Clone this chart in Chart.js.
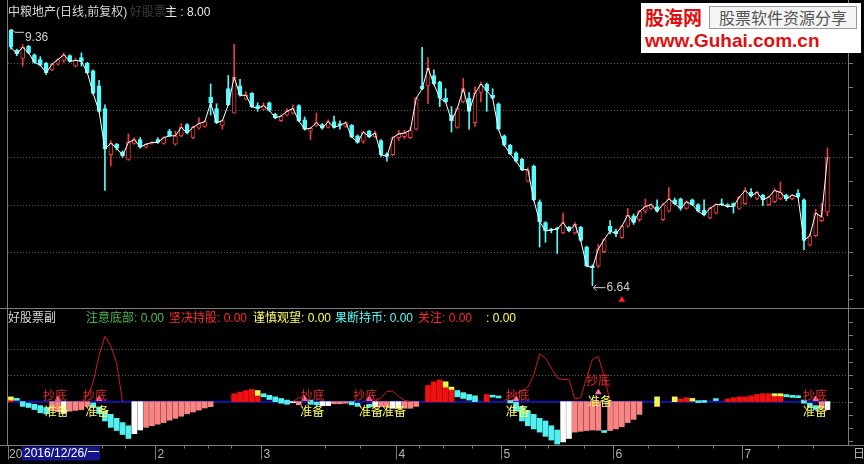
<!DOCTYPE html>
<html><head><meta charset="utf-8">
<script src="https://cdn.jsdelivr.net/npm/chart.js@4.4.1/dist/chart.umd.min.js"></script>
<style>
html,body{margin:0;padding:0;background:#000;}
body{width:864px;height:464px;position:relative;overflow:hidden;font-family:"Liberation Sans","Noto Sans CJK SC",sans-serif;}
canvas{position:absolute;left:0}
#c1{top:0}
#c2{top:308px}
.t{position:absolute;white-space:nowrap;font-size:12px;line-height:14px;}
#logo{position:absolute;left:641px;top:3px;width:220px;height:50px;background:#fff;}
</style></head><body>
<canvas id="c1" width="864" height="308"></canvas>
<canvas id="c2" width="864" height="156"></canvas>
<div class="t" style="left:8px;top:5px;font-size:12px;color:#d8d8d8">中粮地产(日线,前复权)</div>
<div class="t" style="left:130px;top:5px;font-size:12px;color:#3a3a3a">好股票</div>
<div class="t" id="mainVal" style="left:165px;top:5px;font-size:12px;color:#e8e8e8"></div>
<div class="t" style="left:8px;top:311px;font-size:12px;color:#d8d8d8">好股票副</div>
<div id="legend"></div>
<div id="logo">
  <div class="t" style="left:4px;top:2px;font-size:19px;line-height:24px;font-weight:bold;color:#e01010;font-family:'Noto Sans CJK SC'">股海网</div>
  <div class="t" style="left:68px;top:3px;width:146px;height:21px;border:1px solid #999;background:#f4f4f4;font-size:16px;line-height:21px;color:#555;text-align:center;font-family:'Noto Sans CJK SC'">股票软件资源分享</div>
  <div class="t" style="left:4px;top:27px;font-size:19px;line-height:22px;font-weight:bold;color:#e01010;font-family:'Liberation Sans'">www.Guhai.com.cn</div>
</div>
<script>
// ---------------- data ----------------
const open = [9.35,9.14,9.05,9.18,9.09,9.04,9.00,8.93,8.99,9.03,
9.08,8.97,9.06,9.00,8.92,8.76,8.52,8.03,8.14,8.06,
7.98,8.15,8.19,8.11,8.15,8.19,8.15,8.28,8.14,8.23,
8.35,8.21,8.31,8.33,8.64,8.52,8.34,8.73,8.47,8.76,
8.62,8.68,8.55,8.51,8.58,8.46,8.39,8.45,8.47,8.55,
8.40,8.28,8.34,8.35,8.32,8.38,8.36,8.33,8.34,8.23,
8.17,8.28,8.22,8.18,8.04,8.03,8.21,8.22,8.21,8.30,
8.76,8.76,8.87,8.80,8.63,8.45,8.32,8.59,8.63,8.37,
8.69,8.78,8.66,8.57,8.23,8.13,8.05,7.98,7.75,7.91,
7.53,7.31,7.24,7.25,7.20,7.26,7.20,7.26,7.05,6.85,
6.85,7.00,7.27,7.22,7.15,7.27,7.38,7.34,7.43,7.46,
7.48,7.34,7.43,7.55,7.56,7.46,7.55,7.50,7.44,7.36,
7.41,7.51,7.50,7.51,7.46,7.51,7.63,7.56,7.60,7.50,
7.53,7.56,7.60,7.56,7.62,7.55,7.07,7.17,7.33,7.42];
const high = [9.36,9.15,9.20,9.19,9.10,9.07,9.01,9.00,9.05,9.11,
9.09,9.05,9.11,9.01,8.93,8.82,8.56,8.18,8.15,8.07,
8.25,8.21,8.21,8.15,8.17,8.21,8.22,8.30,8.28,8.36,
8.36,8.33,8.42,8.39,8.78,8.57,8.40,8.87,9.20,8.83,
8.70,8.69,8.58,8.58,8.59,8.47,8.45,8.52,8.56,8.56,
8.43,8.32,8.47,8.36,8.40,8.44,8.39,8.38,8.35,8.24,
8.28,8.29,8.28,8.19,8.05,8.22,8.29,8.29,8.32,8.64,
9.17,9.06,8.93,8.81,8.73,8.54,8.53,8.84,8.69,8.75,
8.80,8.79,8.73,8.58,8.24,8.14,8.06,7.99,7.89,7.92,
7.55,7.32,7.25,7.26,7.41,7.27,7.31,7.27,7.06,6.86,
7.08,7.14,7.33,7.24,7.28,7.46,7.40,7.44,7.56,7.51,
7.55,7.51,7.68,7.57,7.57,7.54,7.56,7.51,7.55,7.47,
7.51,7.56,7.51,7.52,7.59,7.68,7.67,7.64,7.61,7.59,
7.67,7.74,7.61,7.61,7.66,7.56,7.19,7.45,7.51,8.10];
const low = [9.15,9.08,8.97,9.10,9.00,8.97,8.88,8.92,8.98,9.01,
9.01,8.96,8.97,8.89,8.67,8.48,7.65,7.91,8.08,8.00,
7.97,8.14,8.10,8.10,8.14,8.15,8.14,8.22,8.13,8.22,
8.25,8.20,8.30,8.32,8.45,8.36,8.30,8.55,8.47,8.65,
8.61,8.53,8.49,8.50,8.49,8.41,8.38,8.44,8.46,8.38,
8.29,8.19,8.33,8.30,8.31,8.31,8.30,8.32,8.21,8.15,
8.15,8.21,8.21,8.01,7.96,8.02,8.18,8.20,8.20,8.29,
8.72,8.57,8.77,8.54,8.58,8.27,8.31,8.58,8.30,8.33,
8.59,8.49,8.62,8.29,8.12,8.03,7.95,7.86,7.74,7.54,
7.05,7.10,7.20,6.98,7.19,7.21,7.19,7.11,6.84,6.64,
6.83,6.99,7.19,7.16,7.14,7.26,7.29,7.32,7.41,7.45,
7.42,7.33,7.42,7.50,7.44,7.45,7.49,7.42,7.38,7.35,
7.40,7.49,7.47,7.41,7.45,7.50,7.58,7.55,7.49,7.49,
7.52,7.55,7.54,7.55,7.57,7.02,7.06,7.16,7.32,7.38];
const close = [9.17,9.10,9.17,9.11,9.01,8.98,8.90,8.99,9.04,9.09,
9.02,9.03,9.02,8.90,8.68,8.49,8.09,8.15,8.10,8.02,
8.16,8.19,8.11,8.14,8.16,8.16,8.21,8.23,8.23,8.32,
8.26,8.32,8.36,8.38,8.58,8.37,8.39,8.56,8.85,8.66,
8.66,8.54,8.52,8.55,8.50,8.42,8.44,8.49,8.52,8.39,
8.30,8.31,8.37,8.31,8.38,8.32,8.34,8.37,8.22,8.16,
8.27,8.22,8.26,8.03,8.01,8.21,8.25,8.26,8.29,8.63,
8.73,8.95,8.78,8.63,8.59,8.39,8.52,8.73,8.49,8.68,
8.78,8.71,8.63,8.30,8.13,8.04,7.96,7.87,7.87,7.55,
7.32,7.22,7.23,7.24,7.31,7.22,7.29,7.12,6.85,6.83,
7.03,7.13,7.22,7.19,7.27,7.39,7.31,7.43,7.48,7.50,
7.43,7.50,7.56,7.51,7.46,7.53,7.50,7.43,7.39,7.46,
7.50,7.50,7.48,7.48,7.58,7.65,7.59,7.63,7.55,7.58,
7.65,7.63,7.56,7.60,7.58,7.12,7.17,7.41,7.37,8.00];

const SLOTS = 143;                       // trading-day slots on the x axis
const firstDate = '2016/12/26/一';
const yearLabel = '2017';
const monthTicks  = [25, 43, 66, 84, 103, 125];
const monthLabels = ['2', '3', '4', '5', '6', '7'];
const weekTicks   = [16, 20, 30, 34, 38, 54, 60, 70, 74, 79, 88, 92, 98, 109, 114, 120, 131, 137];
const priceGrid = [7.0, 7.5, 8.0, 8.5, 9.0];
const subGrid = [1, 2];
const buyMarkIdx = [104];
const buyMarkVal = [6.49];

// sub-chart (好股票副) — [index, from, to]
const sellSeg = [[1,0.12,0.05],[2,0.0,-0.18],[3,-0.06,-0.22],[4,-0.10,-0.30],[5,-0.15,-0.42],[6,-0.22,-0.46],
[14,-0.05,-0.20],[15,-0.20,-0.45],[16,-0.36,-0.73],[17,-0.48,-0.97],[18,-0.63,-1.09],[19,-0.79,-1.24],[20,-0.91,-1.39],
[43,0.30,0.18],[44,0.24,0.08],[45,0.18,0.0],[46,0.12,-0.06],[47,0.06,-0.10],
[51,0.06,-0.10],[52,-0.02,-0.12],[58,0.0,-0.12],[59,-0.06,-0.18],[61,-0.10,-0.20],
[76,0.42,0.18],[77,0.34,0.12],[78,0.27,0.06],[79,0.22,0.0],
[82,0.20,0.17],[83,0.18,0.14],[85,0.05,-0.05],
[86,-0.02,-0.36],[87,-0.18,-0.73],[88,-0.34,-0.91],[89,-0.48,-1.03],[90,-0.63,-1.15],[91,-0.73,-1.31],[92,-0.91,-1.45],[93,-1.07,-1.60],
[101,-1.09,-1.15],[117,0.06,0.0],[118,0.03,-0.03],[120,0.07,0.04],
[132,0.27,0.18],[133,0.24,0.16],[134,0.22,0.15],[135,0.06,-0.06],[136,-0.06,-0.20],[137,-0.15,-0.30]];
const watchSeg = [[0,0.06,0.18],[42,0.24,0.42],[74,0.55,0.75],[75,0.46,0.55],[110,0.18,-0.18],[113,0.18,0.0],[116,0.12,0.02],[130,0.22,0.30],[131,0.22,0.30]];
// [index, value] — bars from zero
const holdBars = [[0,0.06],[38,0.30],[39,0.36],[40,0.42],[41,0.46],[42,0.24],[71,0.61],[72,0.75],[73,0.82],[74,0.55],[75,0.46],[81,0.27],
[114,0.10],[115,0.15],[122,0.10],[123,0.15],[124,0.18],[125,0.18],[126,0.22],[127,0.27],[128,0.30],[129,0.30],[130,0.22],[131,0.22]];
const bottomBars = [[7,-0.30],[8,-0.38],[10,-0.36],[11,-0.33],[12,-0.30],[13,-0.18],
[23,-0.97],[24,-0.91],[25,-0.85],[26,-0.79],[27,-0.70],[28,-0.63],[29,-0.55],[30,-0.46],[31,-0.39],[32,-0.32],[33,-0.24],[34,-0.19],
[49,-0.12],[55,-0.08],[56,-0.08],[57,-0.06],[63,-0.18],[64,-0.20],[67,-0.25],[68,-0.25],[69,-0.18],
[96,-1.15],[97,-1.12],[98,-1.09],[99,-1.07],[100,-1.08],[102,-1.09],[103,-1.03],[104,-0.95],[105,-0.79],[106,-0.67],[107,-0.48],[138,-0.25]];
const turnBars = [[9,-0.42],[21,-1.21],[22,-1.07],[48,-0.04],[53,-0.15],[54,-0.15],[62,-0.20],[65,-0.25],[66,-0.25],[94,-1.52],[95,-1.39],[139,-0.30]];
const focusLine = [[12,0.0],[13,0.2],[14,0.73],[15,1.75],[16,2.47],[17,2.1],[18,1.45],[19,0.0],
[48,0.0],[49,0.15],[50,0.1],[51,0.0],
[62,0.0],[63,0.15],[64,0.38],[65,0.4],[66,0.2],[67,0.05],[68,0.0],
[84,0.05],[85,0.15],[86,0.3],[87,0.4],[88,0.55],[89,1.0],[90,1.8],[91,1.64],[92,1.27],[93,0.9],[94,0.84],[95,0.83],[96,0.1],
[97,0.15],[98,0.9],[99,1.6],[100,1.7],[101,0.95],[102,0.0]];
const markIdx = [8, 15, 50, 61, 86, 100, 137];
const markVal = [0.1, 0.1, 0.1, 0.1, 0.1, 0.35, 0.1];
const chaodiIdx = [7.5, 14.3, 51.4, 60.3, 86.3, 100, 136.9];
const chaodiVal = [0.25, 0.25, 0.25, 0.25, 0.25, 0.8, 0.25];
const zhunbeiIdx = [7.8, 14.7, 51.3, 61.3, 65.2, 86.3, 100.3, 136.9];
const zhunbeiVal = [-0.36, -0.36, -0.36, -0.36, -0.36, -0.36, 0.0, -0.36];
const signalText = ['抄底', '准备'];
const legendNames = ['注意底部', '坚决持股', '谨慎观望', '果断持币', '关注', ''];
const legendVals  = [0, 0, 0, 0, 0, 0];

// ---------------- build ----------------
const N = close.length;
const labels = Array.from({length: SLOTS}, (_, i) => String(i));
const up = close.map((c, i) => c >= open[i]);
const RED = '#ee3b3b', CYAN = '#54fcfc', FRAME = '#7c7c7c', GRID = '#5a5a5a';
const empty = () => new Array(N).fill(null);
const seg = (t) => { const a = empty(); t.forEach(([i, f, to]) => a[i] = [f, to]); return a; };
const fromZero = (t) => { const a = empty(); t.forEach(([i, v]) => a[i] = [0, v]); return a; };
const pts = (t) => { const a = empty(); t.forEach(([i, v]) => a[i] = v); return a; };
const sparse = (ix, vals) => { const a = empty(); ix.forEach((i, k) => a[i] = vals[k]); return a; };

document.getElementById('mainVal').textContent = '主 : ' + close[N - 1].toFixed(2);
const legendColors = ['#4cbc4c', '#ff2a2a', '#ffff55', '#55ffff', '#ff2a2a', '#ffff55'];
const legendX = [86, 169, 253, 335, 418, 486];
const lg = document.getElementById('legend');
legendNames.forEach((n, k) => {
  const d = document.createElement('div'); d.className = 't';
  d.style.cssText = `left:${legendX[k]}px;top:311px;color:${legendColors[k]}`;
  d.textContent = n + ': ' + legendVals[k].toFixed(2); lg.appendChild(d);
});

function ln(ctx, x1, y1, x2, y2) { ctx.beginPath(); ctx.moveTo(x1, y1); ctx.lineTo(x2, y2); ctx.stroke(); }

const mainPlugin = {
  id: 'mainPlugin',
  beforeDatasetsDraw(chart) {
    const {ctx, chartArea: a, scales: {y}} = chart;
    ctx.save(); ctx.strokeStyle = GRID; ctx.lineWidth = 1; ctx.setLineDash([1, 2]);
    priceGrid.forEach(v => { const py = Math.round(y.getPixelForValue(v)) + 0.5; ln(ctx, a.left, py, a.right + 6, py); });
    ctx.restore();
  },
  afterDraw(chart) {
    const {ctx, chartArea: a, scales: {x, y}} = chart;
    ctx.save(); ctx.strokeStyle = FRAME; ctx.lineWidth = 1;
    ln(ctx, 7.5, 0, 7.5, 308); ln(ctx, a.right + 0.5, 0, a.right + 0.5, 308);
    for (let v = 6.5; v <= 9.6; v += 0.25) { const py = Math.round(y.getPixelForValue(v)) + 0.5; ln(ctx, a.right, py, a.right + 5, py); }
    // high / low annotations
    let hi = 0, lo = 0;
    high.forEach((h, i) => { if (h > high[hi]) hi = i; });
    low.forEach((l, i) => { if (l < low[lo]) lo = i; });
    ctx.strokeStyle = '#d0d0d0'; ctx.fillStyle = '#d0d0d0';
    ctx.font = '12px "Liberation Sans"'; ctx.textBaseline = 'middle';
    let hx = x.getPixelForValue(hi), hy = y.getPixelForValue(high[hi]);
    ln(ctx, hx + 1, hy, hx + 4, hy + 3); ln(ctx, hx + 4, hy + 3, hx + 13, hy + 3);
    ln(ctx, hx + 1, hy, hx + 1, hy + 4);
    ctx.fillText(high[hi].toFixed(2), hx + 14, hy + 8);
    let lx = x.getPixelForValue(lo), ly = y.getPixelForValue(low[lo]) + 2;
    ln(ctx, lx + 1, ly, lx + 13, ly); ln(ctx, lx + 1, ly, lx + 4, ly - 3); ln(ctx, lx + 1, ly, lx + 4, ly + 3);
    ctx.fillText(low[lo].toFixed(2), lx + 14, ly);
    ctx.restore();
  }
};

new Chart(document.getElementById('c1'), {
  type: 'bar',
  data: { labels, datasets: [
    { type: 'line', data: close, borderColor: '#ffffff', borderWidth: 1, pointRadius: 0, order: 0 },
    { type: 'line', data: sparse(buyMarkIdx, buyMarkVal), showLine: false, pointStyle: 'triangle', pointRadius: 3, pointBackgroundColor: '#ff2020', pointBorderColor: '#ff2020', order: 0 },
    { data: open.map((o, i) => [o, close[i]]), backgroundColor: up.map(u => u ? '#000' : CYAN), borderColor: up.map(u => u ? RED : CYAN),
      borderWidth: 1, borderSkipped: false, barThickness: 4, minBarLength: 1, grouped: false, order: 1 },
    { data: low.map((l, i) => [l, high[i]]), backgroundColor: up.map(u => u ? RED : CYAN), barThickness: 1, grouped: false, order: 2 }
  ]},
  options: {
    responsive: false, animation: false, devicePixelRatio: 1, events: [],
    plugins: { legend: { display: false }, tooltip: { enabled: false } },
    layout: { padding: { left: 8, right: 16, top: 0, bottom: 0 } },
    scales: { x: { display: false, offset: true }, y: { display: false, min: 6.456, max: 9.618 } }
  },
  plugins: [mainPlugin]
});

const subPlugin = {
  id: 'subPlugin',
  beforeDatasetsDraw(chart) {
    const {ctx, chartArea: a, scales: {y}} = chart;
    ctx.save(); ctx.strokeStyle = GRID; ctx.lineWidth = 1; ctx.setLineDash([1, 2]);
    subGrid.concat([0]).forEach(v => { const py = Math.round(y.getPixelForValue(v)) + 0.5; ln(ctx, a.left, py, a.right + 6, py); });
    ctx.restore();
  },
  afterDatasetsDraw(chart) {
    const {ctx, scales: {x, y}} = chart;
    ctx.save(); ctx.font = '12px "Noto Sans CJK SC"'; ctx.textAlign = 'center'; ctx.textBaseline = 'middle';
    ctx.fillStyle = '#e82828';
    chaodiIdx.forEach((ix, k) => ctx.fillText(signalText[0], x.getPixelForValue(ix), y.getPixelForValue(chaodiVal[k])));
    ctx.fillStyle = '#ffff5a';
    zhunbeiIdx.forEach((ix, k) => ctx.fillText(signalText[1], x.getPixelForValue(ix), y.getPixelForValue(zhunbeiVal[k])));
    ctx.restore();
  },
  afterDraw(chart) {
    const {ctx, chartArea: a, scales: {x, y}} = chart;
    const catW = (a.right - a.left) / SLOTS;
    ctx.save(); ctx.strokeStyle = FRAME; ctx.lineWidth = 1;
    ln(ctx, 0, 0.5, 864, 0.5);
    ln(ctx, 7.5, 0, 7.5, a.bottom); ln(ctx, a.right + 0.5, 0, a.right + 0.5, a.bottom);
    const base = a.bottom + 0.5;
    ln(ctx, 0, base, 864, base);
    for (let v = -1.5; v <= 3; v += 0.5) { const py = Math.round(y.getPixelForValue(v)) + 0.5; ln(ctx, a.right, py, a.right + 5, py); }
    ctx.font = '12px "Liberation Sans","Noto Sans CJK SC"'; ctx.textBaseline = 'middle';
    weekTicks.forEach(ix => { const px = Math.round(x.getPixelForValue(ix) - catW / 2) + 0.5; ln(ctx, px, base, px, base + 3); });
    ctx.fillStyle = '#b4b4b4';
    monthTicks.forEach((ix, k) => {
      const px = Math.round(x.getPixelForValue(ix) - catW / 2) + 0.5;
      ln(ctx, px, base, px, base + 14); ctx.fillText(monthLabels[k], px + 2, base + 9);
    });
    ln(ctx, 8.5, base, 8.5, base + 14);
    ctx.fillText(yearLabel, 9, base + 9);
    ctx.fillStyle = '#14148c'; ctx.fillRect(22, base + 1, 78, 14);
    ctx.fillStyle = '#ffffff'; ctx.fillText(firstDate, 24, base + 8.5);
    ctx.fillStyle = '#b4b4b4'; ctx.fillText('日', 853, base + 9);
    ctx.restore();
  }
};

new Chart(document.getElementById('c2'), {
  type: 'bar',
  data: { labels, datasets: [
    { type: 'line', data: sparse(markIdx, markVal), showLine: false, pointStyle: 'triangle', pointRadius: 3, pointBackgroundColor: '#ff70b0', pointBorderColor: '#ff70b0', order: 0 },
    { type: 'line', data: pts(focusLine), borderColor: '#cc1c1c', borderWidth: 1, pointRadius: 0, spanGaps: false, order: 1 },
    { data: seg(watchSeg), backgroundColor: '#f4f450', barThickness: 5, minBarLength: 2, grouped: false, order: 2 },
    { data: seg(sellSeg), backgroundColor: '#52f0f0', barThickness: 5, minBarLength: 2, grouped: false, order: 3 },
    { data: fromZero(holdBars), backgroundColor: '#f01010', barThickness: 5, grouped: false, order: 4 },
    { data: fromZero(bottomBars), backgroundColor: '#f88484', barThickness: 5, grouped: false, order: 4 },
    { data: fromZero(turnBars), backgroundColor: '#ffffff', barThickness: 5, grouped: false, order: 4 },
    { type: 'line', data: new Array(N).fill(0), borderColor: '#1010b0', borderWidth: 2, pointRadius: 0, order: 6 }
  ]},
  options: {
    responsive: false, animation: false, devicePixelRatio: 1, events: [],
    plugins: { legend: { display: false }, tooltip: { enabled: false } },
    layout: { padding: { left: 8, right: 16, top: 0, bottom: 19 } },
    scales: { x: { display: false, offset: true }, y: { display: false, min: -1.636, max: 3.345 } }
  },
  plugins: [subPlugin]
});
</script>
</body></html>
